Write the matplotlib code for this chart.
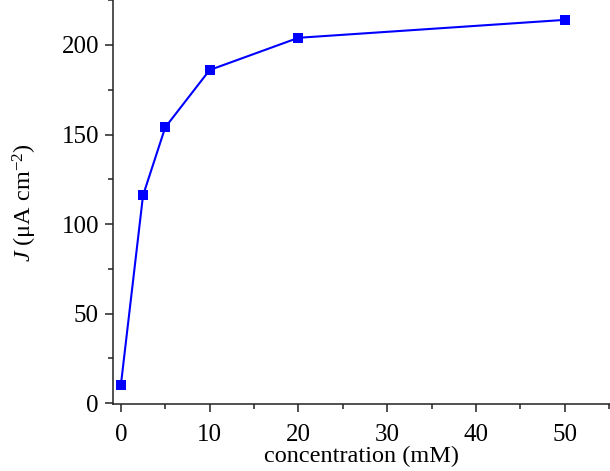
import matplotlib
matplotlib.use("Agg")
import matplotlib.pyplot as plt
from matplotlib.ticker import MultipleLocator

# dados
concentration = [0, 2.5, 5, 10, 20, 50]
current_density = [10, 116, 154, 186, 204, 214]

plt.rcParams['font.family'] = ['Liberation Serif', 'DejaVu Serif']
plt.rcParams['mathtext.fontset'] = 'custom'
plt.rcParams['mathtext.rm'] = 'Liberation Serif'
plt.rcParams['mathtext.it'] = 'Liberation Serif:italic'

fig = plt.figure(figsize=(6.1, 4.71), dpi=100)
ax = fig.add_axes([0.185, 0.142, 0.815, 0.858])

ax.plot(concentration, current_density, color='#0000ff', linewidth=1.5,
        marker='s', markersize=6.5, markeredgewidth=0)

ax.set_xlim(-0.9, 55.1)
ax.set_ylim(-0.5, 225.1)

ax.xaxis.set_major_locator(MultipleLocator(10))
ax.xaxis.set_minor_locator(MultipleLocator(5))
ax.yaxis.set_major_locator(MultipleLocator(50))
ax.yaxis.set_minor_locator(MultipleLocator(25))

for side in ['top', 'right']:
    ax.spines[side].set_visible(False)
for side in ['left', 'bottom']:
    ax.spines[side].set_linewidth(1.1)
    ax.spines[side].set_color('#222222')

ax.tick_params(which='major', direction='out', length=6, width=1.1,
               labelsize=18, color='#222222')
ax.tick_params(axis='x', which='major', pad=8)
ax.tick_params(axis='y', which='major', pad=4)
ax.tick_params(which='minor', direction='out', length=3.5, width=1.1,
               color='#222222')

ax.set_xlabel('concentration (mM)', fontsize=17.5, labelpad=0)
ax.set_ylabel(r'$J$ (μA cm$^{−2}$)', fontsize=17.5, labelpad=16)

plt.savefig('out.png', dpi=100)
